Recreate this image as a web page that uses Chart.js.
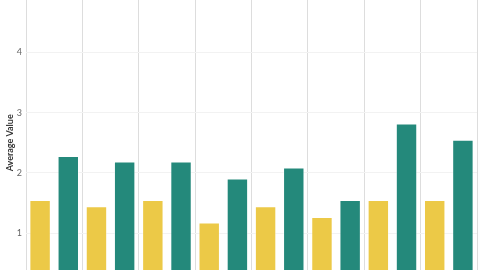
<!DOCTYPE html>
<html>
<head>
<meta charset="utf-8">
<script src="https://cdn.jsdelivr.net/npm/chart.js@4/dist/chart.umd.min.js"></script>
<style>
  html, body { margin:0; padding:0; background:#fff; overflow:hidden; width:480px; height:270px; }
  #wrap { position:absolute; left:0; top:-20px; width:480px; height:323px; }
</style>
</head>
<body>
<div id="wrap"><canvas id="grafico"></canvas></div>
<script>
// valores (eje y 0–5)
const categorias = ["A", "B", "C", "D", "E", "F", "G", "H"];
const serieAmarilla = [1.55, 1.45, 1.55, 1.18, 1.45, 1.27, 1.55, 1.55];
const serieVerde = [2.28, 2.19, 2.19, 1.91, 2.09, 1.55, 2.82, 2.55];
const ticksY = [0, 1, 2, 3, 4, 5];

new Chart(document.getElementById('grafico').getContext('2d'), {
  type: 'bar',
  data: { labels: categorias, datasets: [
    { label: 'Serie 1', data: serieAmarilla, backgroundColor: '#ECC947', borderColor: 'rgba(255,255,255,0.45)', borderWidth: 1 },
    { label: 'Serie 2', data: serieVerde, backgroundColor: '#24897B', borderColor: 'rgba(255,255,255,0.45)', borderWidth: 1 }
  ]},
  options: {
    responsive: true, maintainAspectRatio: false, animation: false,
    layout: { padding: { top: 12, right: 3, left: 0, bottom: 0 } },
    datasets: { bar: { categoryPercentage: 1.0, barPercentage: 0.76 } },
    plugins: { legend: { display: false }, tooltip: { enabled: false } },
    scales: {
      x: {
        ticks: { display: false },
        grid: { color: '#dddddd', lineWidth: 1, drawTicks: false },
        border: { display: false }
      },
      y: {
        min: ticksY[0], max: ticksY[ticksY.length - 1],
        afterBuildTicks: s => { s.ticks = ticksY.map(v => ({ value: v })); },
        afterFit: s => { s.width = 26; },
        ticks: { color: '#666', font: { family: 'Lato', size: 9 }, padding: 4, callback: v => v },
        grid: { color: '#f2f2f2', drawTicks: false },
        border: { display: false },
        title: { display: true, text: 'Average Value', color: '#333', font: { family: 'Lato', size: 9, weight: 'bold' }, padding: 5 }
      }
    }
  }
});
</script>
</body>
</html>
